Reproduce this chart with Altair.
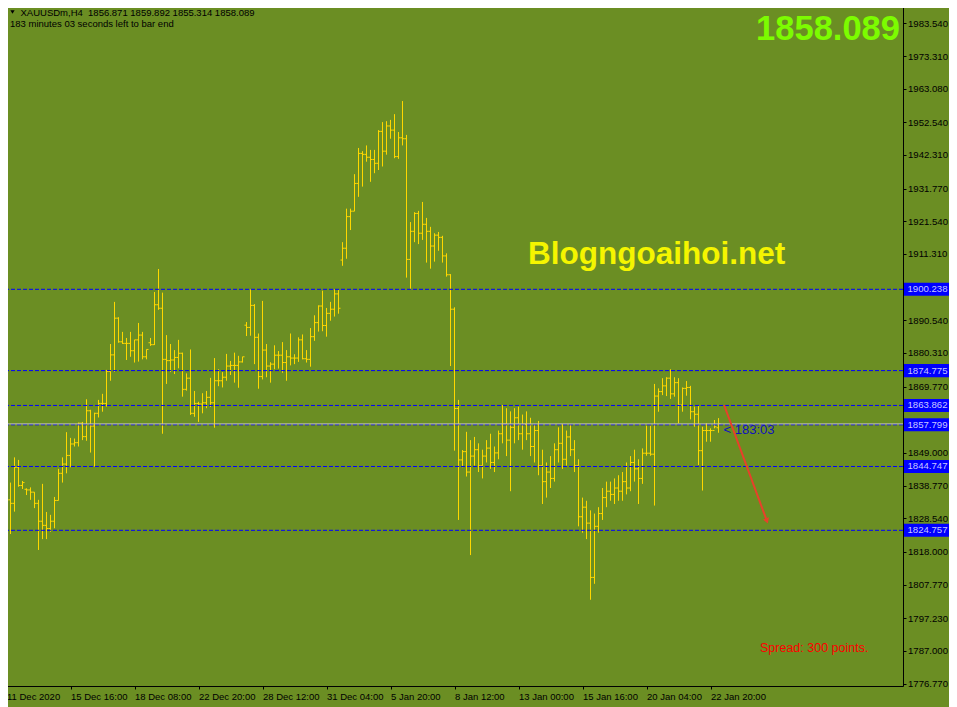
import altair as alt
import pandas as pd

# ---------------- data ----------------
opens = [1834.5, 1834.3, 1833.2, 1844.5, 1838.8, 1837.6, 1837.4, 1836.7, 1833.2, 1827.6,
         1826.3, 1825.3, 1827.6, 1834.1, 1842.6, 1845.5, 1848.2, 1851.8, 1852.2, 1858.3,
         1854.1, 1862.2, 1857.4, 1861.4, 1864.5, 1864.5, 1874.5, 1879.7, 1891.2, 1883.8,
         1883.3, 1883.3, 1881.0, 1884.4, 1885.9, 1879.1, 1883.5, 1882.9, 1895.4, 1894.3,
         1878.3, 1877.9, 1878.1, 1878.9, 1880.2, 1868.9, 1872.4, 1861.4, 1864.5, 1864.3,
         1864.7, 1866.4, 1864.7, 1871.6, 1871.6, 1872.7, 1876.2, 1876.4, 1876.4, 1877.5,
         1889.0, 1888.3, 1895.2, 1885.2, 1872.9, 1881.2, 1876.2, 1876.8, 1879.6, 1879.6,
         1877.3, 1879.1, 1878.7, 1878.7, 1884.4, 1878.5, 1878.3, 1885.4, 1889.8, 1895.0,
         1888.9, 1892.7, 1894.0, 1898.8, 1909.4, 1913.1, 1923.0, 1924.7, 1933.4, 1942.8,
         1942.5, 1941.6, 1940.9, 1939.7, 1949.7, 1943.5, 1951.4, 1950.1, 1941.8, 1947.7,
         1947.4, 1909.6, 1918.4, 1924.0, 1917.8, 1920.6, 1918.4, 1913.8, 1917.2, 1916.5,
         1910.7, 1904.8, 1894.0, 1862.9, 1846.8, 1849.4, 1843.0, 1848.0, 1850.0, 1845.0,
         1848.0, 1850.5, 1846.0, 1849.0, 1855.0, 1858.0, 1853.0, 1857.0, 1860.0, 1855.0,
         1858.0, 1855.0, 1851.0, 1856.0, 1845.0, 1840.0, 1843.0, 1841.0, 1850.0, 1852.0,
         1847.0, 1854.0, 1850.0, 1845.0, 1829.0, 1832.0, 1827.0, 1810.0, 1826.0, 1830.0,
         1835.0, 1837.0, 1836.0, 1838.0, 1837.0, 1840.0, 1838.0, 1846.0, 1844.0, 1841.0,
         1848.9, 1848.9, 1848.6, 1866.8, 1868.2, 1870.0, 1872.4, 1867.5, 1871.0, 1864.0,
         1869.2, 1869.5, 1861.9, 1861.1, 1849.7, 1856.0, 1856.0, 1856.0, 1856.871]
highs = [1838.6, 1839.7, 1847.6, 1846.8, 1840.2, 1837.9, 1838.2, 1836.7, 1834.3, 1839.3,
         1830.5, 1829.6, 1835.2, 1844.0, 1847.6, 1855.5, 1853.7, 1853.5, 1858.5, 1858.7,
         1865.8, 1862.5, 1861.6, 1865.6, 1867.5, 1875.0, 1883.1, 1896.3, 1891.5, 1886.9,
         1885.0, 1886.9, 1884.4, 1889.7, 1886.9, 1881.4, 1885.0, 1899.4, 1906.6, 1899.2,
         1885.9, 1883.1, 1881.2, 1884.4, 1880.4, 1873.9, 1881.4, 1868.4, 1865.0, 1867.7,
         1868.4, 1872.5, 1878.7, 1875.2, 1874.3, 1880.0, 1877.8, 1880.4, 1879.4, 1879.1,
         1890.0, 1900.2, 1895.6, 1886.4, 1896.6, 1883.1, 1877.4, 1882.7, 1880.9, 1883.7,
         1881.2, 1886.4, 1879.9, 1885.2, 1886.1, 1881.2, 1888.1, 1892.1, 1895.2, 1899.8,
         1894.4, 1896.3, 1900.2, 1900.0, 1915.0, 1925.5, 1925.5, 1936.3, 1944.5, 1943.5,
         1945.3, 1943.9, 1943.9, 1950.1, 1952.6, 1952.9, 1953.3, 1955.1, 1949.5, 1959.2,
         1948.6, 1921.3, 1924.4, 1924.8, 1927.6, 1922.6, 1919.8, 1917.8, 1918.2, 1917.0,
         1911.5, 1905.0, 1894.6, 1865.6, 1849.9, 1855.6, 1853.0, 1854.0, 1852.0, 1850.0,
         1853.0, 1855.0, 1851.0, 1856.0, 1864.0, 1863.0, 1862.0, 1863.0, 1863.5, 1861.0,
         1862.0, 1860.0, 1858.0, 1859.0, 1850.0, 1846.0, 1848.0, 1852.0, 1857.0, 1858.0,
         1856.0, 1858.0, 1853.0, 1847.0, 1835.0, 1834.0, 1831.0, 1830.0, 1832.0, 1838.0,
         1840.0, 1840.0, 1841.0, 1842.0, 1843.0, 1846.0, 1848.0, 1850.0, 1847.0, 1850.4,
         1857.5, 1857.5, 1870.6, 1869.2, 1872.4, 1872.7, 1875.2, 1872.7, 1872.4, 1869.5,
         1871.5, 1870.0, 1863.5, 1863.7, 1857.2, 1858.3, 1856.7, 1859.3, 1859.892]
lows = [1832.4, 1823.6, 1830.6, 1838.4, 1837.7, 1835.8, 1834.3, 1831.7, 1818.6, 1822.0,
        1822.0, 1824.3, 1825.4, 1834.1, 1839.7, 1842.6, 1844.5, 1851.0, 1851.0, 1853.0,
        1852.8, 1849.1, 1844.7, 1860.1, 1861.9, 1863.5, 1871.6, 1874.4, 1883.5, 1883.1,
        1878.1, 1879.1, 1877.3, 1877.6, 1878.3, 1878.3, 1882.5, 1882.8, 1893.8, 1855.0,
        1870.6, 1874.3, 1873.7, 1875.5, 1866.6, 1868.5, 1860.9, 1860.3, 1858.7, 1861.4,
        1863.0, 1863.4, 1856.9, 1869.9, 1869.5, 1871.6, 1873.4, 1871.0, 1869.4, 1877.3,
        1885.6, 1885.7, 1876.8, 1869.1, 1872.0, 1872.7, 1871.0, 1875.2, 1875.4, 1874.1,
        1871.6, 1876.4, 1876.8, 1877.5, 1878.3, 1877.3, 1876.0, 1884.1, 1887.0, 1887.1,
        1885.4, 1890.4, 1891.7, 1892.6, 1907.6, 1909.8, 1918.8, 1924.7, 1929.2, 1932.4,
        1940.2, 1933.9, 1936.6, 1937.6, 1938.7, 1942.4, 1947.4, 1941.3, 1941.1, 1945.3,
        1903.9, 1900.2, 1915.0, 1914.4, 1915.7, 1908.6, 1906.7, 1908.9, 1912.3, 1908.6,
        1904.2, 1876.2, 1849.7, 1828.0, 1844.5, 1841.6, 1817.0, 1845.0, 1843.0, 1841.0,
        1846.0, 1844.0, 1843.0, 1847.0, 1852.0, 1848.0, 1837.0, 1852.0, 1853.0, 1850.0,
        1853.0, 1848.0, 1846.0, 1842.0, 1833.0, 1835.0, 1838.0, 1840.0, 1846.0, 1844.0,
        1845.0, 1848.0, 1843.0, 1826.0, 1824.0, 1822.0, 1803.0, 1808.0, 1824.0, 1828.0,
        1832.0, 1834.0, 1833.0, 1834.0, 1834.0, 1836.0, 1837.0, 1840.0, 1833.0, 1839.3,
        1848.1, 1848.1, 1832.5, 1861.9, 1867.1, 1866.8, 1865.9, 1866.6, 1858.3, 1861.9,
        1866.9, 1859.5, 1857.2, 1845.2, 1837.2, 1852.5, 1852.5, 1856.7, 1855.314]
closes = [1834.3, 1833.2, 1844.5, 1838.8, 1839.7, 1837.4, 1836.7, 1833.2, 1827.6, 1826.3,
          1825.3, 1827.6, 1834.1, 1842.6, 1845.5, 1848.2, 1851.8, 1852.2, 1858.3, 1854.1,
          1862.2, 1857.4, 1861.4, 1864.5, 1864.5, 1874.5, 1879.7, 1891.2, 1883.8, 1883.3,
          1883.3, 1881.0, 1884.4, 1885.9, 1879.1, 1881.4, 1882.9, 1895.4, 1894.3, 1878.3,
          1877.9, 1878.1, 1878.9, 1880.2, 1868.9, 1872.4, 1861.4, 1864.5, 1864.3, 1864.7,
          1866.4, 1864.7, 1871.6, 1871.6, 1872.7, 1876.2, 1876.4, 1876.4, 1877.5, 1879.1,
          1888.3, 1895.2, 1885.2, 1872.9, 1881.2, 1876.2, 1876.8, 1879.6, 1879.6, 1877.3,
          1879.1, 1878.7, 1878.7, 1884.4, 1878.5, 1878.3, 1885.4, 1889.8, 1895.0, 1888.9,
          1892.7, 1894.0, 1898.8, 1894.3, 1913.1, 1923.0, 1924.7, 1933.4, 1942.8, 1942.5,
          1941.6, 1940.9, 1939.7, 1949.7, 1943.5, 1951.4, 1950.1, 1941.8, 1947.7, 1947.4,
          1909.6, 1918.4, 1924.0, 1917.8, 1920.6, 1918.4, 1913.8, 1917.2, 1916.5, 1910.7,
          1904.8, 1894.0, 1862.9, 1846.8, 1849.4, 1843.0, 1848.0, 1850.0, 1845.0, 1848.0,
          1850.5, 1846.0, 1849.0, 1855.0, 1858.0, 1853.0, 1857.0, 1860.0, 1855.0, 1858.0,
          1855.0, 1851.0, 1856.0, 1845.0, 1840.0, 1843.0, 1841.0, 1850.0, 1852.0, 1847.0,
          1854.0, 1850.0, 1845.0, 1829.0, 1832.0, 1827.0, 1810.0, 1826.0, 1830.0, 1835.0,
          1837.0, 1836.0, 1838.0, 1837.0, 1840.0, 1838.0, 1846.0, 1844.0, 1841.0, 1848.9,
          1848.9, 1848.6, 1866.8, 1868.2, 1870.0, 1872.4, 1867.5, 1871.0, 1864.0, 1869.2,
          1869.5, 1861.9, 1861.1, 1849.7, 1856.0, 1856.0, 1856.0, 1857.2, 1858.089]

x_tick_bars = [0, 16, 32, 48, 64, 80, 96, 112, 128, 144, 160, 176]
x_tick_labels = ["11 Dec 2020", "15 Dec 16:00", "18 Dec 08:00", "22 Dec 20:00",
                 "28 Dec 12:00", "31 Dec 04:00", "5 Jan 20:00", "8 Jan 12:00",
                 "13 Jan 00:00", "15 Jan 16:00", "20 Jan 04:00", "22 Jan 20:00"]
# price-scale labels that are not hidden behind the line labels
y_tick_values = [1983.54, 1973.31, 1963.08, 1952.54, 1942.31, 1931.77, 1921.54, 1911.31,
                 1890.54, 1880.31, 1869.77, 1849.00, 1838.77, 1828.54,
                 1818.00, 1807.77, 1797.23, 1787.00, 1776.77]
level_values = [1900.238, 1874.775, 1863.862, 1857.799, 1844.747, 1824.757]
bid_price = 1858.089
arrow_bars = [179.4, 190.1]
arrow_prices = [1864.0, 1827.7]

header_line1 = "XAUUSDm,H4\u00a0 1856.871 1859.892 1855.314 1858.089"
header_line2 = "183 minutes 03 seconds left to bar end"
big_price = "1858.089"
watermark = "Blogngoaihoi.net"
timer_text = "< 183:03"
spread_text = "Spread: 300 points."

# ---------------- chart ----------------
BG = "#6B8E23"
BAR = "#FFD700"
FONT = "Liberation Sans"

bars = pd.DataFrame({"i": list(range(len(closes))), "o": opens, "h": highs,
                     "l": lows, "c": closes})
xs = alt.Scale(domain=[-0.375, 224.125], nice=False, zero=False)
ys = alt.Scale(domain=[1775.99, 1989.91], nice=False, zero=False)

label_expr = "[" + ",".join("'%s'" % s for s in x_tick_labels) + "][round(datum.value/16)]"

XAX = alt.Axis(orient="bottom", values=x_tick_bars, labelExpr=label_expr, title=None,
               grid=False, domain=False, tickSize=3, tickColor="black", labelColor="black",
               labelFont=FONT, labelFontSize=9.5, labelAlign="left", labelPadding=2,
               labelBaseline="top", labelFlush=False, labelOverlap=False)
YAX = alt.Axis(orient="right", values=y_tick_values, format=".3f", title=None, grid=False,
               domain=False, tickSize=3, tickColor="black", labelColor="black",
               labelFont=FONT, labelFontSize=9.6, labelPadding=1.5, labelFlush=False,
               labelOverlap=False)


def X(f):
    return alt.X(f, scale=xs, axis=XAX)


def Y(f):
    return alt.Y(f, scale=ys, axis=YAX)


base = alt.Chart(bars)
hl = base.mark_rule(color=BAR, strokeWidth=1).encode(x=X("i:Q"), y=Y("l:Q"), y2="h:Q")
open_t = base.transform_calculate(xa="datum.i - 0.5").mark_rule(
    color=BAR, strokeWidth=1).encode(x=X("xa:Q"), x2="i:Q", y=Y("o:Q"))
close_t = base.transform_calculate(xb="datum.i + 0.5").mark_rule(
    color=BAR, strokeWidth=1).encode(x=X("i:Q"), x2="xb:Q", y=Y("c:Q"))

lv = pd.DataFrame({"v": level_values})
levels = alt.Chart(lv).mark_rule(color="#0000FF", strokeWidth=1, strokeDash=[4, 2]).encode(
    y=Y("v:Q"))
bid = alt.Chart(pd.DataFrame({"v": [bid_price]})).mark_rule(
    color="#C0C0C0", strokeWidth=1).encode(y=Y("v:Q"))
boxes = alt.Chart(lv).transform_calculate(
    top="datum.v + 2.05", bot="datum.v - 2.05").mark_rect(color="#0000FF").encode(
    x=alt.value(899), x2=alt.value(947), y=Y("top:Q"), y2="bot:Q")
box_txt = alt.Chart(lv).mark_text(
    align="left", baseline="middle", font=FONT, fontSize=9.6, color="#C8C8FF").encode(
    x=alt.value(902.5), y=Y("v:Q"), text=alt.Text("v:Q", format=".3f"))

h1 = alt.Chart(pd.DataFrame({"t": [header_line1]})).mark_text(
    align="left", baseline="top", font=FONT, fontSize=9.5, color="black").encode(
    x=alt.value(15.5), y=alt.value(5.3), text="t:N")
h2 = alt.Chart(pd.DataFrame({"t": [header_line2]})).mark_text(
    align="left", baseline="middle", font=FONT, fontSize=9.5, color="black").encode(
    x=alt.value(5), y=alt.value(21), text="t:N")
tri = alt.Chart(pd.DataFrame({"t": [0]})).mark_point(
    shape="triangle-down", filled=True, size=18, color="black", opacity=1).encode(
    x=alt.value(7.5), y=alt.value(9))
big = alt.Chart(pd.DataFrame({"t": [big_price]})).mark_text(
    align="right", baseline="alphabetic", font=FONT, fontWeight="bold", fontSize=34.5,
    color="#7CFC00").encode(x=alt.value(895), y=alt.value(36.5), text="t:N")
wm = alt.Chart(pd.DataFrame({"t": [watermark]})).mark_text(
    align="left", baseline="alphabetic", font=FONT, fontWeight="bold", fontSize=31.5,
    color="#F5F500").encode(x=alt.value(523), y=alt.value(261), text="t:N")
timer = alt.Chart(pd.DataFrame({"i": [len(closes) - 1], "p": [bid_price],
                                "t": [timer_text]})).mark_text(
    align="left", baseline="middle", font=FONT, fontSize=13, color="#1010C0", dx=5, dy=6).encode(
    x=X("i:Q"), y=Y("p:Q"), text="t:N")
spread = alt.Chart(pd.DataFrame({"t": [spread_text]})).mark_text(
    align="left", baseline="middle", font=FONT, fontSize=12.5, color="#FF0000").encode(
    x=alt.value(755), y=alt.value(645), text="t:N")

arrow_df = pd.DataFrame({"i": arrow_bars, "p": arrow_prices})
arrow = alt.Chart(arrow_df).mark_line(color="#E8402A", strokeWidth=2).encode(
    x=X("i:Q"), y=Y("p:Q"))
arrow_head = alt.Chart(arrow_df.tail(1)).mark_point(
    shape="triangle-down", filled=True, size=40, angle=340, color="#E8402A", opacity=1).encode(
    x=X("i:Q"), y=Y("p:Q"))

chart = alt.layer(
    hl, open_t, close_t, levels, bid, boxes, box_txt, h1, h2, tri, big,
    wm, timer, spread, arrow, arrow_head
).properties(
    width=898, height=683,
    padding={"left": -3, "top": -5, "right": 46, "bottom": 21},
    autosize=alt.AutoSizeParams(type="none"),
).configure(background=BG).configure_view(stroke="black", strokeWidth=1, fill=BG)

chart.save("out.html", embed_options={"renderer": "svg", "actions": False})
